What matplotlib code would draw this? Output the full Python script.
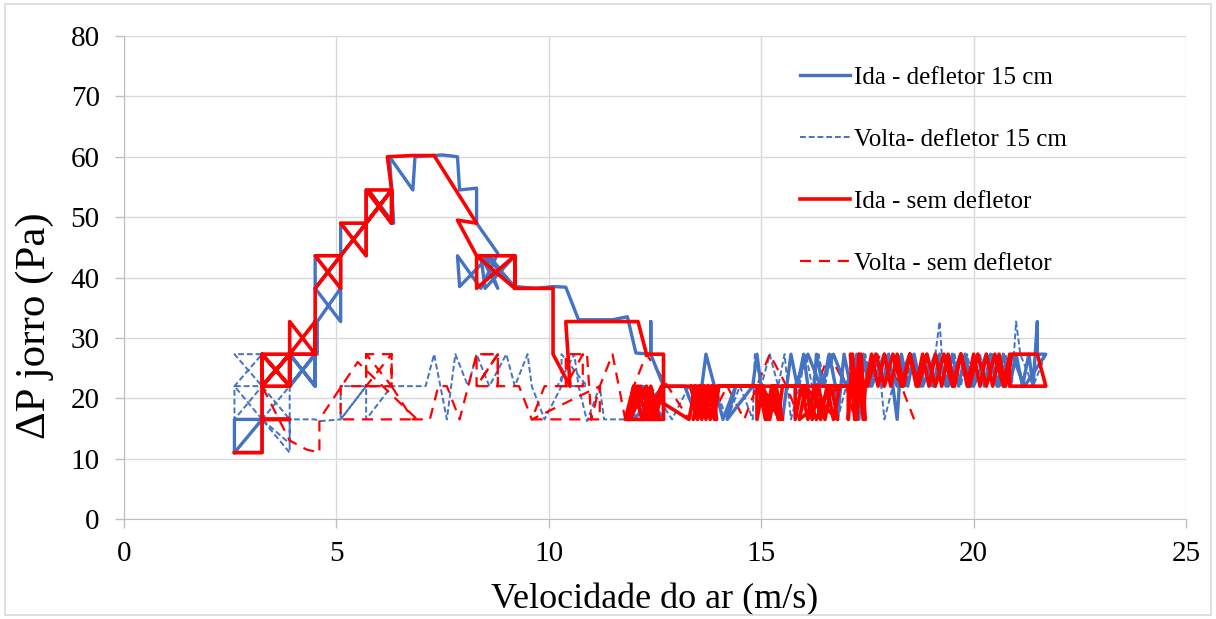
import matplotlib.pyplot as plt
from matplotlib.patches import Rectangle

plt.rcParams['font.family'] = ['Liberation Serif', 'DejaVu Serif']

BLUE = '#4472C4'
RED = '#FF0000'

# (velocidade m/s, delta P Pa), in plotting order
ida_def = [
    (2.6, 11), (3.25, 16.5), (3.25, 11), (2.6, 11), (2.6, 16.5), (3.25, 16.5), (3.25, 22), (3.9, 27.3),
    (3.9, 22), (3.25, 27.3), (3.25, 22), (3.9, 27.3), (4.5, 22), (4.5, 27.3), (3.9, 22), (4.5, 27.3),
    (4.5, 22), (3.9, 27.3), (4.55, 27.3), (4.55, 32.7), (5.1, 38.2), (5.1, 32.7), (4.5, 38.2),
    (4.5, 43.6), (5.1, 38.2), (5.1, 43.6), (4.5, 38.2), (5.1, 43.6), (5.7, 49), (5.7, 43.6), (5.1, 49),
    (5.1, 43.6), (5.7, 49), (6.3, 54.5), (6.3, 49), (5.7, 54.5), (5.7, 49), (6.3, 54.5), (6.35, 49),
    (5.75, 54.5), (6.3, 49), (6.3, 54.5), (6.25, 60), (6.8, 54.5), (6.85, 60), (7.5, 60.3), (7.85, 60),
    (7.9, 54.5), (8.3, 54.8), (8.3, 49), (8.8, 44), (8.4, 38.2), (7.85, 43.6), (7.9, 38.5), (8.6, 43.6),
    (9.2, 38.2), (9.2, 43.6), (8.5, 38.2), (8.4, 43.6), (8.8, 38.2), (8.5, 43.6), (9.2, 38.5),
    (9.7, 38.2), (10.1, 38.5), (10.4, 38.4), (10.7, 33), (11.5, 33), (11.85, 33.5), (12.05, 27.5),
    (12.4, 27.3), (12.4, 32.7), (12.4, 27.3), (12.7, 22), (12.7, 16.5), (12.0, 22), (12.0, 16.5),
    (12.7, 22), (12.35, 16.5), (12.0, 22), (12.7, 16.5), (12.2, 22), (12.5, 16.5), (12.7, 22),
    (13.2, 22), (13.5, 16.5), (13.7, 27.3), (13.9, 22), (14.1, 16.5), (14.4, 22), (14.2, 16.5),
    (14.8, 22), (14.9, 27.3), (15.1, 16.5), (15.3, 22), (15.5, 16.5), (15.7, 27.3), (15.85, 22),
    (16.0, 27.3), (16.1, 22), (16.2, 16.5), (16.3, 27.3), (16.45, 22), (16.6, 27.3), (16.75, 22),
    (16.8, 16.8), (16.95, 27.3), (17.1, 22), (17.25, 27.3), (17.3, 16.5), (17.4, 27.3), (17.55, 22),
    (17.7, 27.3), (17.85, 22), (18.0, 27.3), (18.1, 22), (18.2, 16.5), (18.3, 27.3), (18.45, 22),
    (18.6, 27.3), (18.75, 22), (18.9, 27.3), (19.05, 22), (19.2, 27.3), (19.35, 22), (19.5, 27.3),
    (19.65, 22), (19.8, 27.3), (19.95, 22), (20.1, 27.3), (20.25, 22), (20.4, 27.3), (20.55, 22),
    (20.7, 27.3), (20.85, 22), (21.0, 27.3), (21.15, 22), (21.3, 27.3), (21.4, 22), (21.5, 32.7),
    (21.5, 27.3), (21.7, 27.3), (21.2, 22), (20.9, 27.3), (20.6, 22), (20.3, 27.3), (20.0, 22),
    (19.7, 27.3), (19.4, 22), (19.1, 27.3), (18.8, 22), (18.5, 27.3), (18.2, 22), (17.9, 27.3),
    (17.6, 22), (17.3, 27.3), (17.0, 22), (16.7, 27.3), (16.4, 22), (16.1, 27.3), (15.8, 22),
]

volta_def = [
    (21.7, 27.3), (21.4, 22), (21.1, 27.3), (21.0, 32.7), (20.9, 22), (20.75, 27.3), (20.6, 22),
    (20.45, 27.3), (20.3, 22), (20.15, 27.3), (20.0, 22), (19.85, 27.3), (19.7, 22), (19.55, 27.3),
    (19.4, 22), (19.25, 27.3), (19.2, 32.7), (19.0, 22), (18.85, 27.3), (18.7, 22), (18.55, 27.3),
    (18.4, 22), (18.25, 27.3), (18.1, 22), (17.9, 16.5), (17.75, 27.3), (17.6, 22), (17.45, 27.3),
    (17.3, 22), (17.15, 27.3), (17.0, 22), (16.8, 16.5), (16.65, 27.3), (16.5, 22), (16.35, 27.3),
    (16.2, 22), (16.05, 27.3), (15.9, 22), (15.7, 16.5), (15.55, 27.3), (15.4, 22), (15.2, 27.3),
    (15.0, 22), (14.85, 27.3), (14.8, 16.5), (14.5, 22), (14.2, 16.5), (13.9, 22), (13.6, 16.5),
    (13.3, 22), (12.9, 16.5), (12.4, 22), (12.0, 22), (11.9, 16.5), (11.3, 16.5), (11.2, 22),
    (10.9, 16.2), (10.7, 22), (10.6, 27.3), (10.2, 22), (10.9, 22), (10.3, 27.3), (10.3, 22),
    (9.9, 16.5), (9.6, 22), (9.5, 27.3), (9.2, 22), (9.0, 27.3), (8.6, 22), (8.3, 27.3), (8.1, 22),
    (7.8, 27.3), (7.6, 16.5), (7.3, 27.3), (7.1, 22), (6.3, 22), (5.7, 16.5), (5.7, 22), (5.1, 16.5),
    (5.1, 22), (5.7, 22), (5.1, 16.5), (4.6, 16.2), (4.5, 16.5), (3.9, 16.5), (3.9, 11), (3.25, 16.5),
    (3.9, 12.5), (3.9, 22), (3.25, 16.5), (3.25, 22), (2.6, 16.5), (2.6, 22), (3.25, 27.3),
    (2.6, 27.3), (3.25, 22), (3.9, 16.5), (3.25, 16.5), (2.6, 22), (3.25, 22), (3.9, 27.3),
]

ida_sem = [
    (2.6, 11), (3.25, 11), (3.25, 16.5), (3.9, 16.5), (3.25, 16.5), (3.25, 22), (3.9, 27.3), (3.9, 22),
    (3.25, 27.3), (3.25, 22), (3.9, 27.3), (3.9, 22), (3.25, 27.3), (3.25, 22), (3.9, 22), (3.9, 27.3),
    (3.25, 27.3), (3.25, 22), (3.9, 27.3), (4.5, 32.7), (4.5, 27.3), (3.9, 32.7), (3.9, 27.3),
    (4.5, 27.3), (4.5, 38.2), (5.1, 43.6), (5.1, 38.2), (4.5, 43.6), (5.1, 43.6), (5.7, 49),
    (5.7, 43.6), (5.1, 49), (5.7, 49), (6.3, 54.5), (6.3, 49), (5.7, 54.5), (5.7, 49), (6.3, 54.5),
    (6.3, 49), (5.75, 54.5), (6.3, 54.5), (6.2, 60), (6.8, 60.2), (7.3, 60.2), (8.3, 49), (7.85, 49.5),
    (8.3, 43.6), (8.3, 38.2), (9.2, 43.6), (9.2, 38.2), (8.3, 43.6), (9.2, 43.6), (9.2, 38.2),
    (10.1, 38.2), (10.1, 27.3), (10.5, 22), (10.4, 32.7), (11.5, 32.7), (12.1, 32.7), (12.3, 27.3),
    (12.7, 27.3), (12.7, 16.5), (11.8, 16.5), (12.0, 22), (12.2, 16.5), (12.4, 22), (12.6, 16.5),
    (12.1, 22), (11.9, 16.5), (12.3, 22), (12.5, 16.5), (12.7, 22), (12.2, 16.5), (12.0, 22),
    (11.85, 16.5), (12.15, 22), (12.45, 16.5), (12.65, 22), (12.35, 16.5), (12.05, 22), (13.3, 16.5),
    (13.45, 22), (13.6, 16.5), (13.75, 22), (13.9, 16.5), (14.0, 22), (13.4, 16.5), (13.55, 22),
    (13.7, 16.5), (13.85, 22), (13.95, 16.5), (13.35, 22), (13.5, 16.5), (13.65, 22), (13.8, 16.5),
    (14.0, 22), (14.9, 22), (14.9, 16.5), (15.05, 22), (15.2, 16.5), (15.35, 22), (15.5, 16.5),
    (15.0, 22), (15.15, 16.5), (15.3, 22), (15.45, 16.5), (14.95, 22), (15.1, 16.5), (15.25, 22),
    (15.4, 16.5), (15.5, 22), (15.8, 22), (15.8, 16.5), (15.95, 22), (16.1, 16.5), (16.25, 22),
    (16.4, 16.5), (16.55, 22), (16.7, 16.5), (16.85, 22), (15.9, 16.5), (16.05, 22), (16.2, 16.5),
    (16.35, 22), (16.5, 16.5), (16.65, 22), (16.8, 16.5), (16.0, 22), (16.3, 16.5), (16.6, 22),
    (17.05, 22), (17.05, 16.5), (17.15, 27.3), (17.25, 16.5), (17.35, 27.3), (17.45, 16.5),
    (17.1, 27.3), (17.2, 16.5), (17.3, 27.3), (17.4, 16.5), (17.45, 22), (17.6, 27.3), (17.75, 22),
    (17.9, 27.3), (18.05, 22), (18.2, 27.3), (18.35, 22), (18.5, 27.3), (18.65, 22), (18.8, 27.3),
    (18.95, 22), (19.1, 27.3), (19.25, 22), (19.4, 27.3), (19.55, 22), (19.7, 27.3), (19.85, 22),
    (20.0, 27.3), (20.15, 22), (20.3, 27.3), (20.45, 22), (20.6, 27.3), (20.75, 22), (20.9, 27.3),
    (21.5, 27.3), (21.7, 22), (20.85, 22), (20.85, 27.3), (20.7, 22), (20.5, 27.3), (20.3, 22),
    (20.1, 27.3), (19.9, 22), (19.7, 27.3), (19.5, 22), (19.3, 27.3), (19.1, 22), (18.9, 27.3),
    (18.7, 22), (18.5, 27.3), (18.3, 22), (18.1, 27.3), (17.9, 22), (17.7, 27.3), (17.5, 22),
    (12.7, 22),
]

volta_sem = [
    (18.6, 16.5), (18.3, 22), (17.8, 27.3), (17.5, 22), (17.2, 16.5), (17.0, 22), (16.6, 27.3),
    (16.3, 22), (15.9, 16.5), (15.6, 22), (15.2, 27.3), (14.9, 22), (14.6, 16.5), (14.2, 22),
    (13.8, 16.5), (13.6, 22), (13.3, 16.5), (12.8, 22), (12.3, 27.3), (12.0, 22), (11.8, 16.5),
    (11.5, 27.3), (11.2, 22), (11.0, 16.5), (10.9, 27.3), (10.4, 27.3), (10.4, 22), (10.8, 22),
    (10.8, 27.3), (10.4, 22), (9.9, 22), (9.6, 16.5), (11.2, 16.5), (11.2, 22), (9.6, 16.5), (9.3, 22),
    (8.8, 22), (8.8, 27.3), (8.3, 22), (8.3, 27.3), (8.8, 27.3), (8.3, 22), (8.8, 22), (8.8, 27.3),
    (8.3, 27.3), (7.9, 16.5), (7.6, 22), (7.4, 22), (7.2, 16.5), (6.8, 16.5), (6.3, 22), (6.3, 27.3),
    (5.7, 22), (5.7, 27.3), (6.3, 27.3), (6.3, 22), (5.7, 22), (5.7, 27.3), (6.3, 22), (5.1, 22),
    (5.1, 16.5), (6.9, 16.5), (5.5, 26), (4.6, 16.5), (4.6, 11), (4.3, 11.5), (3.9, 13), (3.25, 22),
    (3.25, 16.5), (3.9, 16.5),
]

series = [
    (ida_def, 'Ida - defletor 15 cm', BLUE, 2.4, '-', 3),
    (volta_def, 'Volta- defletor 15 cm', BLUE, 1.4, (0, (3, 1.5)), 2),
    (ida_sem, 'Ida - sem defletor', RED, 2.6, '-', 4),
    (volta_sem, 'Volta - sem defletor', RED, 1.6, (0, (5, 3.5)), 2),
]

fig = plt.figure(figsize=(12.16, 6.19), dpi=100)
fig.patches.append(Rectangle((5 / 1216, 4 / 619), 1206 / 1216, 611 / 619, transform=fig.transFigure,
                             fill=False, edgecolor='#D9D9D9', lw=1.2))
ax = fig.add_axes([124 / 1216, 1 - 519 / 619, (1186 - 124) / 1216, (519 - 36) / 619])

for pts, label, color, lw, ls, z in series:
    xs, ys = zip(*pts)
    ax.plot(xs, ys, color=color, lw=lw, ls=ls, label=label, zorder=z)

ax.set_xlim(0, 25)
ax.set_ylim(0, 80)
ax.set_xticks(range(0, 26, 5))
ax.set_yticks(range(0, 81, 10))
ax.grid(True, color='#D9D9D9', lw=1)
ax.set_axisbelow(True)
for s in ['top', 'right']:
    ax.spines[s].set_visible(False)
for s in ['left', 'bottom']:
    ax.spines[s].set_color('#BFBFBF')
ax.tick_params(colors='#BFBFBF', labelcolor='black', length=6.5, width=1, labelsize=21)
ax.tick_params(axis='y', pad=11)
ax.tick_params(axis='x', pad=9)

ax.set_xlabel('Velocidade do ar (m/s)', fontsize=26, labelpad=12)
ax.set_ylabel('ΔP jorro (Pa)', fontsize=31)
ax.yaxis.set_label_coords(-0.066, 0.40)

ax.legend(loc='upper left', bbox_to_anchor=(800 / 1216, 1 - 66 / 619), bbox_transform=fig.transFigure,
          frameon=False, fontsize=18, handlelength=2.0, handletextpad=0.15, labelspacing=1.58,
          borderpad=0, borderaxespad=0)

fig.savefig('out.png', dpi=100)
